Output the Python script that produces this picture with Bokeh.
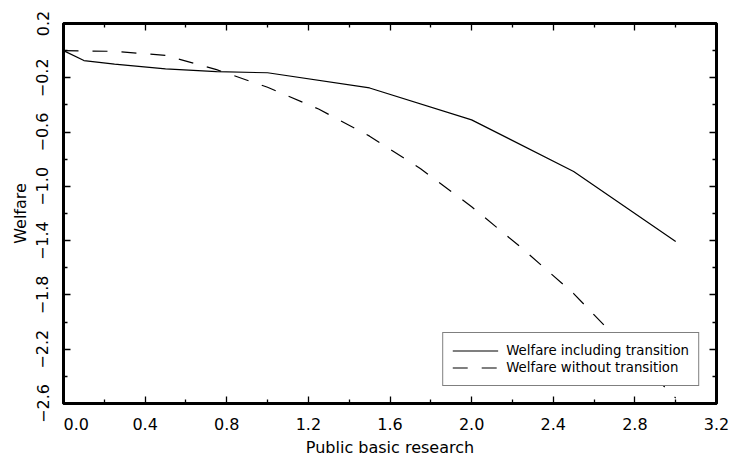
from bokeh.plotting import figure
from bokeh.models import LinearAxis, FixedTicker, CustomJSTickFormatter, Range1d
from bokeh.embed import file_html
from bokeh.resources import INLINE

# ---- data ----
x_incl = [0.0, 0.1, 0.25, 0.5, 0.75, 1.0, 1.5, 2.0, 2.5, 3.0]
y_incl = [0.0, -0.073, -0.10, -0.135, -0.155, -0.163, -0.275, -0.51, -0.89, -1.406]

x_wo = [0.0, 0.25, 0.5, 0.75, 1.0, 1.25, 1.5, 1.75, 2.0, 2.25, 2.5, 2.75, 3.0]
y_wo = [0.0, -0.005, -0.035, -0.14, -0.27, -0.43, -0.63, -0.87, -1.15, -1.46, -1.79, -2.18, -2.56]

x_ticks = [0.0, 0.4, 0.8, 1.2, 1.6, 2.0, 2.4, 2.8, 3.2]
x_tick_labels = ["0.0", "0.4", "0.8", "1.2", "1.6", "2.0", "2.4", "2.8", "3.2"]
x_minor = [0.2, 0.6, 1.0, 1.4, 1.8, 2.2, 2.6, 3.0]

y_ticks = [0.2, -0.2, -0.6, -1.0, -1.4, -1.8, -2.2, -2.6]
y_tick_labels = ["0.2", "\u22120.2", "\u22120.6", "\u22121.0", "\u22121.4", "\u22121.8", "\u22122.2", "\u22122.6"]
y_minor = [0.0, -0.4, -0.8, -1.2, -1.6, -2.0, -2.4]

series_names = ["Welfare including transition", "Welfare without transition"]

FONT = "DejaVu Sans"

p = figure(width=729, height=461, x_range=Range1d(0, 3.2), y_range=Range1d(-2.6, 0.2),
           output_backend="svg", toolbar_location=None,
           min_border_left=63, min_border_right=13, min_border_top=23, min_border_bottom=58,
           background_fill_color="white", border_fill_color="white")
p.xgrid.visible = False
p.ygrid.visible = False
p.outline_line_color = "black"
p.outline_line_width = 3

p.line(x_incl, y_incl, line_color="black", line_width=1.2, legend_label=series_names[0])
p.line(x_wo, y_wo, line_color="black", line_width=1.2, line_dash="15 14",
       legend_label=series_names[1])

code = """
for (let i = 0; i < tv.length; i++) {
  if (Math.abs(tick - tv[i]) < 1e-6) return tl[i];
}
return '';
"""
# first x label nudged right (as in the original) with non-breaking spaces
x_disp = list(x_tick_labels)
x_disp[0] = "\u00a0" * 5 + x_disp[0]
xfmt = CustomJSTickFormatter(args=dict(tv=x_ticks, tl=x_disp), code=code)
yfmt = CustomJSTickFormatter(args=dict(tv=y_ticks, tl=y_tick_labels), code=code)
blank = CustomJSTickFormatter(code="return '';")


def style(ax, ticks, minor):
    ax.ticker = FixedTicker(ticks=ticks, minor_ticks=minor)
    ax.axis_line_color = "black"
    ax.axis_line_width = 3
    ax.major_tick_in = 7
    ax.major_tick_out = 0
    ax.minor_tick_in = 4
    ax.minor_tick_out = 0
    ax.major_tick_line_width = 1.3
    ax.minor_tick_line_width = 1.3
    ax.major_tick_line_color = "black"
    ax.minor_tick_line_color = "black"
    ax.major_label_text_font = FONT
    ax.major_label_text_font_size = "16px"
    ax.major_label_text_color = "black"
    ax.axis_label_text_font = FONT
    ax.axis_label_text_font_size = "16px"
    ax.axis_label_text_font_style = "normal"
    ax.axis_label_text_color = "black"


xa = p.xaxis[0]
style(xa, x_ticks, x_minor)
xa.formatter = xfmt
xa.axis_label = "Public basic research"
xa.major_label_standoff = 11
xa.axis_label_standoff = 1

ya = p.yaxis[0]
style(ya, y_ticks, y_minor)
ya.formatter = yfmt
ya.axis_label = "Welfare"
ya.major_label_orientation = "vertical"
ya.major_label_standoff = 15
ya.axis_label_standoff = 4

top = LinearAxis(formatter=blank)
style(top, x_ticks, x_minor)
top.major_label_orientation = "vertical"
top.major_label_standoff = 0
p.add_layout(top, "above")

right = LinearAxis(formatter=blank)
style(right, y_ticks, y_minor)
right.major_label_standoff = 0
p.add_layout(right, "right")

lg = p.legend[0]
lg.location = "bottom_right"
lg.margin = 17
lg.padding = 9
lg.spacing = 0
lg.glyph_width = 46
lg.glyph_height = 17
lg.label_height = 17
lg.label_standoff = 8
lg.label_text_font = FONT
lg.label_text_font_size = "13.3px"
lg.label_text_color = "black"
lg.border_line_color = "black"
lg.border_line_width = 1
lg.background_fill_color = "white"
lg.background_fill_alpha = 1

open("out.html", "w").write(file_html(p, INLINE))
